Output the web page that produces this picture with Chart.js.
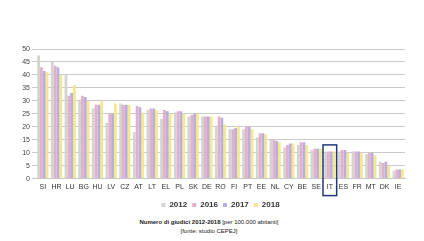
<!DOCTYPE html>
<html>
<head>
<meta charset="utf-8">
<script src="https://cdn.jsdelivr.net/npm/chart.js@4"></script>
<style>
  html, body { margin: 0; padding: 0; background: #fff; }
  #wrap { position: absolute; left: 0; top: 0; width: 424px; height: 219px; }
  .cap { position: absolute; left: 0; width: 418px; text-align: center;
         font-family: "Liberation Sans", Arial, sans-serif; font-size: 6px; color: #222; }
</style>
</head>
<body>
<div id="wrap"><canvas id="c" width="424" height="219"></canvas></div>
<div class="cap" style="top:219px"><b>Numero di giudici 2012-2018</b> [per 100.000 abitanti]</div>
<div class="cap" style="top:228px">[fonte: studio CEPEJ]</div>
<script>
// Paesi (ordinati come nel grafico)
const labels = ['SI','HR','LU','BG','HU','LV','CZ','AT','LT','EL','PL','SK','DE','RO',
                'FI','PT','EE','NL','CY','BE','SE','IT','ES','FR','MT','DK','IE'];
const years = ['2012', '2016', '2017', '2018'];
const v2012 = [47.5, 45, 40, 30.5, 27, 21.5, 29, 18, 26.5, 23, 25.5, 24, 24, 20,
               19, 19, 16, 15, 12, 13, 11, 10.5, 10.5, 10.5, 9.5, 6.5, 3];
const v2016 = [43, 43.5, 32, 32, 28.5, 25, 28.5, 28, 27, 26.5, 26, 24.5, 24, 24,
               19, 20, 17.5, 15, 13, 14, 11.5, 10.5, 11, 10.5, 10, 6, 3.5];
const v2017 = [41.5, 43, 33, 31.5, 28.5, 25, 28.5, 27.5, 27, 26, 26, 25, 24, 23.5,
               19.5, 20, 17.5, 14.5, 13.5, 14, 11.5, 10.5, 11, 10.5, 10, 6.5, 3.5];
const v2018 = [41, 40, 36, 30, 30, 29, 28.5, 25.5, 26.5, 25, 25, 25, 24, 21,
               20, 19, 17, 14, 13.5, 13, 11.5, 10.5, 10, 10, 9, 5, 3.5];
const yTicks = [0, 5, 10, 15, 20, 25, 30, 35, 40, 45, 50];
const highlight = 'IT';

const colors = ['#d3d3cf', '#e3afca', '#b8afe0', '#f5e78c'];
const series = [v2012, v2016, v2017, v2018];

// Riquadro attorno all'Italia
const boxPlugin = {
    id: 'highlightBox',
    afterDraw(chart) {
        const x = chart.scales.x, y = chart.scales.y;
        const i = labels.indexOf(highlight);
        const cx = x.getPixelForValue(i);
        const w = (x.right - x.left) / labels.length;
        const top = y.getPixelForValue(Math.max(...series.map(s => s[i])) + 2.5);
        const bottom = chart.chartArea.bottom + 17;
        const ctx = chart.ctx;
        ctx.save();
        ctx.strokeStyle = '#20397a';
        ctx.lineWidth = 1.5;
        ctx.strokeRect(cx - w / 2, top, w, bottom - top);
        ctx.restore();
    }
};

new Chart(document.getElementById('c'), {
    type: 'bar',
    data: {
        labels: labels,
        datasets: series.map((s, k) => ({
            label: years[k],
            data: s,
            backgroundColor: colors[k],
            borderWidth: 0,
            categoryPercentage: 0.82,
            barPercentage: 1.0
        }))
    },
    options: {
        responsive: false,
        animation: false,
        layout: { padding: { top: 49, right: 19, left: 0, bottom: 0 } },
        plugins: {
            tooltip: { enabled: false },
            legend: {
                position: 'bottom',
                fullSize: false,
                labels: {
                    boxWidth: 4,
                    boxHeight: 4,
                    padding: 5,
                    color: '#333',
                    font: { family: 'Liberation Sans', size: 8, weight: 'bold' }
                }
            }
        },
        scales: {
            x: {
                grid: { display: false, drawTicks: false, tickLength: 0 },
                border: { display: true, color: '#c8c8c8' },
                ticks: {
                    autoSkip: false, maxRotation: 0, padding: 4,
                    color: '#333',
                    font: { family: 'Liberation Sans', size: 7 }
                },
                afterFit(s) { s.height = 17.4; }
            },
            y: {
                min: 0, max: 50,
                afterBuildTicks(s) { s.ticks = yTicks.map(v => ({ value: v })); },
                grid: { color: '#cacaca', tickLength: 4 },
                border: { display: false },
                ticks: {
                    padding: 2, color: '#444',
                    font: { family: 'Liberation Sans', size: 7 }
                },
                afterFit(s) { s.width = 36; }
            }
        }
    },
    plugins: [boxPlugin]
});
</script>
</body>
</html>
